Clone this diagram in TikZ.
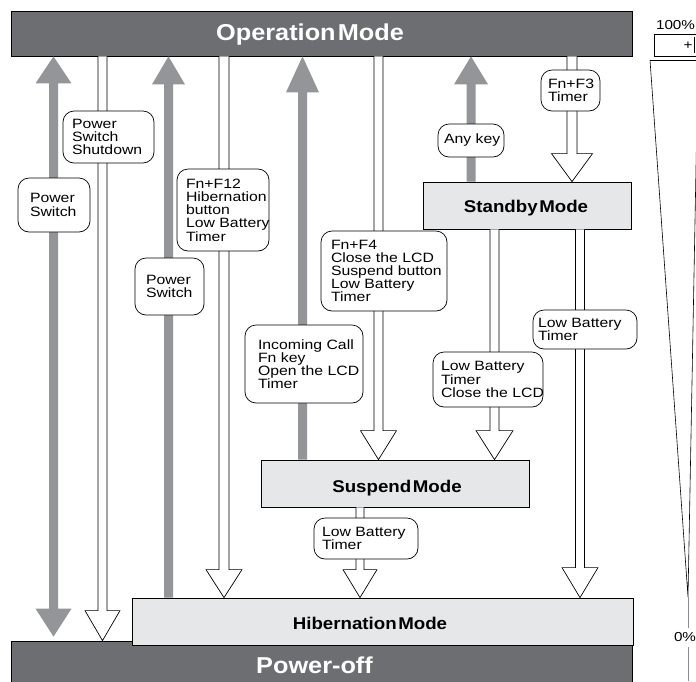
\documentclass[tikz,border=0pt]{standalone}
\usepackage{fontspec}
\setmainfont{Liberation Sans}
\newfontfamily\lblfont{Liberation Sans}[FakeStretch=1.17,WordSpace=0.45]
\newfontfamily\ttlfont{Liberation Sans}[FakeStretch=1.1,WordSpace=0.3]
\usetikzlibrary{calc}
\definecolor{barc}{RGB}{109,110,114}
\definecolor{grayc}{RGB}{147,149,152}
\definecolor{boxc}{RGB}{230,231,232}
\hyphenpenalty=10000
\exhyphenpenalty=10000
% gray solid arrow pointing up: #1 tail, #2 tip, #3 head length, #4 head half width
\newcommand\grayup[4]{\fill[grayfill] let \p1=(#1), \p2=(#2) in
  ({\x1-4.5pt},\y1) -- ({\x1-4.5pt},{\y2-#3}) -- ({\x1-#4},{\y2-#3}) -- (\x1,\y2)
  -- ({\x1+#4},{\y2-#3}) -- ({\x1+4.5pt},{\y2-#3}) -- ({\x1+4.5pt},\y1) -- cycle;}
% hollow white arrow pointing down: #1 start, #2 tip, #3 head length, #4 head half width, #5 shaft half width
\newcommand\whitedown[5]{\filldraw[hollow] let \p1=(#1), \p2=(#2) in
  ({\x1-#5},\y1) -- ({\x1-#5},{\y2+#3}) -- ({\x1-#4},{\y2+#3}) -- (\x1,\y2)
  -- ({\x1+#4},{\y2+#3}) -- ({\x1+#5},{\y2+#3}) -- ({\x1+#5},\y1);}
\begin{document}
\begin{tikzpicture}[x=1pt,y=-1pt,
  darkbar/.style={draw=black,line width=0.8pt,fill=barc,inner sep=0pt},
  modebox/.style={draw=black,line width=0.8pt,fill=boxc,inner sep=0pt},
  ttl/.style={text=white,font=\ttlfont\bfseries\fontsize{23}{25}\selectfont,inner sep=0pt},
  mtxt/.style={text=black,font=\ttlfont\bfseries\fontsize{17}{19}\selectfont,inner sep=0pt},
  lbl/.style={draw=black,line width=0.7pt,fill=white,rounded corners=11pt,align=left,
    inner ysep=2pt,font=\lblfont\fontsize{13.5}{13.2}\selectfont,
    execute at begin node={\hyphenpenalty=10000\exhyphenpenalty=10000}},
  pct/.style={font=\lblfont\fontsize{13}{13}\selectfont,inner sep=1pt},
  hollow/.style={draw=black,line width=0.7pt,fill=white},
  grayfill/.style={fill=grayc},
  thinline/.style={line width=0.6pt}]
\useasboundingbox (0,0) rectangle (696,681);
\clip (0,0) rectangle (696,681);
\fill[white] (0,0) rectangle (696,681);

% mode bars and boxes
\node[darkbar,minimum width=621pt,minimum height=45pt] (op) at (321.5,33.5) {};
\node[darkbar,minimum width=621pt,minimum height=50pt] (off) at (321.5,666) {};
\node[modebox,minimum width=501pt,minimum height=47pt] (hib) at (382.5,621.5) {};
\node[modebox,minimum width=268pt,minimum height=47pt] (sus) at (395,483.5) {};
\node[modebox,minimum width=208pt,minimum height=47pt] (stb) at (527,205.5) {};

\node[ttl] (opt) at (310,34.5) {Operation Mode};
\node[ttl] (offt) at (314.5,665) {Power-off};
\node[mtxt] (hibt) at (370,623.3) {Hibernation Mode};
\node[mtxt] (sust) at (397,488) {Suspend Mode};
\node[mtxt] (stbt) at (526,208) {Standby Mode};

% columns
\coordinate (c1) at (53.5,0);
\coordinate (c2) at (102.5,0);
\coordinate (c3) at (168.5,0);
\coordinate (c4) at (224,0);
\coordinate (c5) at (302.5,0);
\coordinate (c6) at (378.5,0);
\coordinate (c7) at (471,0);
\coordinate (c8) at (572,0);
\coordinate (c9) at (494.5,0);
\coordinate (c10) at (580,0);
\coordinate (c11) at (360,0);

% gray double arrow Operation <-> Power-off
\fill[grayfill] let \p1=(op.south -| c1), \p2=(off.north -| c1) in
  (\x1,\y1) -- ({\x1-18pt},{\y1-27pt}) -- ({\x1-4.5pt},{\y1-27pt}) -- ({\x1-4.5pt},{\y2+32pt})
  -- ({\x1-18pt},{\y2+32pt}) -- (\x1,{\y2+4pt}) -- ({\x1+18pt},{\y2+32pt}) -- ({\x1+4.5pt},{\y2+32pt})
  -- ({\x1+4.5pt},{\y1-27pt}) -- ({\x1+18pt},{\y1-27pt}) -- cycle;
% gray up arrows
\grayup{hib.north -| c3}{op.south -| c3}{28pt}{16.5pt}
\grayup{sus.north -| c5}{op.south -| c5}{36pt}{16.5pt}
\grayup{stb.north -| c7}{op.south -| c7}{28pt}{17pt}

% white down arrows
\whitedown{op.south -| c2}{off.north -| c2}{30pt}{17.5pt}{4.5pt}
\whitedown{op.south -| c4}{hib.north -| c4}{28pt}{18pt}{5pt}
\whitedown{op.south -| c6}{sus.north -| c6}{29pt}{18pt}{4.5pt}
\whitedown{op.south -| c8}{stb.north -| c8}{28pt}{20.5pt}{5pt}
\whitedown{stb.south -| c9}{sus.north -| c9}{29pt}{18.5pt}{4.5pt}
\whitedown{stb.south -| c10}{hib.north -| c10}{30pt}{18pt}{4.5pt}
\whitedown{sus.south -| c11}{hib.north -| c11}{28pt}{17pt}{4pt}

% labels
\node[lbl,inner xsep=12pt,text width=48pt,minimum height=54pt] (l1) at (54,205) {Power\\Switch};
\node[lbl,inner xsep=9pt,text width=73pt,minimum height=52pt] (l2) at (108.5,137) {Power\\Switch\\Shutdown};
\node[lbl,inner xsep=11pt,text width=47pt,minimum height=57pt] (l3) at (169.5,286.5) {Power\\Switch};
\node[lbl,inner xsep=9pt,text width=74pt,minimum height=82pt] (l4) at (223,210) {Fn+F12\\Hibernation\\button\\Low~Battery\\Timer};
\node[lbl,inner xsep=13pt,text width=92pt,minimum height=78pt] (l5) at (304,364) {Incoming~Call\\Fn~key\\Open~the~LCD\\Timer};
\node[lbl,inner xsep=10pt,text width=106pt,minimum height=80pt] (l6) at (384,271) {Fn+F4\\Close~the~LCD\\Suspend~button\\Low~Battery\\Timer};
\node[lbl,inner xsep=6pt,text width=54pt,minimum height=33pt] (l7) at (471,140.5) {Any~key};
\node[lbl,inner xsep=7pt,text width=45pt,minimum height=41pt] (l8) at (570.5,90.5) {Fn+F3\\Timer};
\node[lbl,inner xsep=8pt,text width=94pt,minimum height=55pt] (l9) at (488,379.5) {Low~Battery\\Timer\\Close~the~LCD};
\node[lbl,inner xsep=5pt,text width=94pt,minimum height=39pt] (l10) at (585,329.5) {Low~Battery\\Timer};
\node[lbl,inner xsep=8pt,text width=88pt,minimum height=41pt] (l11) at (366,538.5) {Low~Battery\\Timer};

% battery indicator
\draw[thinline] (654,34) rectangle (700,56);
\draw[thinline] (694.5,37) -- (694.5,53);
\node[pct] (p100) at (675.5,25.5) {100\%};
\node[pct] (plus) at (688,45.5) {+};
\draw[thinline] (650,60) -- (700,60);
\draw[thinline] (650,60) -- (688,597) -- (698,60);
\draw[thinline,color=black!45] (688,597) -- (688,681);
\node[pct,fill=white,inner ysep=5pt] (p0) at (685,637.5) {0\%};
\end{tikzpicture}
\end{document}
